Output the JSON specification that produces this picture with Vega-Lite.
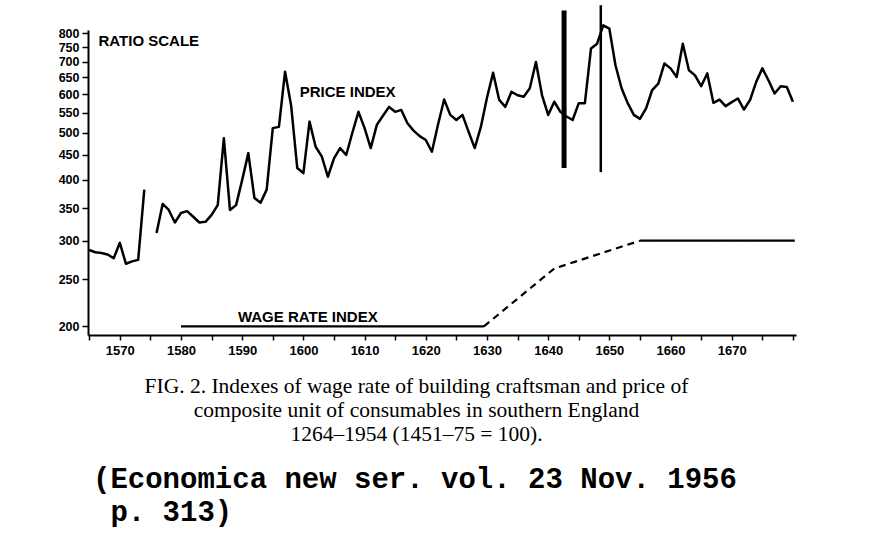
{
  "$schema": "https://vega.github.io/schema/vega-lite/v6.json",
  "width": 708,
  "height": 305,
  "autosize": {"type": "none"},
  "padding": {"left": 88, "top": 30, "right": 76, "bottom": 206},
  "background": "white",
  "config": {"view": {"stroke": null}, "font": "Liberation Sans"},
  "title": {
    "text": ["(Economica new ser. vol. 23 Nov. 1956", "\u200b\u00a0p. 313)"],
    "orient": "bottom",
    "anchor": "start",
    "frame": "group",
    "font": "Liberation Mono",
    "fontSize": 29,
    "fontWeight": "bold",
    "lineHeight": 33,
    "color": "black",
    "offset": 20,
    "dx": 5
  },
  "datasets": {
    "price": [
      {"year": 1565, "value": 287, "seg": 1},
      {"year": 1566, "value": 284, "seg": 1},
      {"year": 1567, "value": 283, "seg": 1},
      {"year": 1568, "value": 281, "seg": 1},
      {"year": 1569, "value": 276, "seg": 1},
      {"year": 1570, "value": 297, "seg": 1},
      {"year": 1571, "value": 269, "seg": 1},
      {"year": 1572, "value": 272, "seg": 1},
      {"year": 1573, "value": 274, "seg": 1},
      {"year": 1574, "value": 382, "seg": 1},
      {"year": 1576, "value": 311, "seg": 2},
      {"year": 1577, "value": 357, "seg": 2},
      {"year": 1578, "value": 347, "seg": 2},
      {"year": 1579, "value": 327, "seg": 2},
      {"year": 1580, "value": 342, "seg": 2},
      {"year": 1581, "value": 345, "seg": 2},
      {"year": 1582, "value": 336, "seg": 2},
      {"year": 1583, "value": 327, "seg": 2},
      {"year": 1584, "value": 328, "seg": 2},
      {"year": 1585, "value": 339, "seg": 2},
      {"year": 1586, "value": 355, "seg": 2},
      {"year": 1587, "value": 487, "seg": 2},
      {"year": 1588, "value": 347, "seg": 2},
      {"year": 1589, "value": 355, "seg": 2},
      {"year": 1590, "value": 400, "seg": 2},
      {"year": 1591, "value": 454, "seg": 2},
      {"year": 1592, "value": 367, "seg": 2},
      {"year": 1593, "value": 359, "seg": 2},
      {"year": 1594, "value": 382, "seg": 2},
      {"year": 1595, "value": 511, "seg": 2},
      {"year": 1596, "value": 514, "seg": 2},
      {"year": 1597, "value": 667, "seg": 2},
      {"year": 1598, "value": 568, "seg": 2},
      {"year": 1599, "value": 423, "seg": 2},
      {"year": 1600, "value": 413, "seg": 2},
      {"year": 1601, "value": 527, "seg": 2},
      {"year": 1602, "value": 468, "seg": 2},
      {"year": 1603, "value": 447, "seg": 2},
      {"year": 1604, "value": 406, "seg": 2},
      {"year": 1605, "value": 443, "seg": 2},
      {"year": 1606, "value": 465, "seg": 2},
      {"year": 1607, "value": 450, "seg": 2},
      {"year": 1608, "value": 500, "seg": 2},
      {"year": 1609, "value": 552, "seg": 2},
      {"year": 1610, "value": 511, "seg": 2},
      {"year": 1611, "value": 465, "seg": 2},
      {"year": 1612, "value": 519, "seg": 2},
      {"year": 1613, "value": 542, "seg": 2},
      {"year": 1614, "value": 565, "seg": 2},
      {"year": 1615, "value": 552, "seg": 2},
      {"year": 1616, "value": 557, "seg": 2},
      {"year": 1617, "value": 523, "seg": 2},
      {"year": 1618, "value": 505, "seg": 2},
      {"year": 1619, "value": 492, "seg": 2},
      {"year": 1620, "value": 483, "seg": 2},
      {"year": 1621, "value": 457, "seg": 2},
      {"year": 1622, "value": 520, "seg": 2},
      {"year": 1623, "value": 585, "seg": 2},
      {"year": 1624, "value": 544, "seg": 2},
      {"year": 1625, "value": 531, "seg": 2},
      {"year": 1626, "value": 544, "seg": 2},
      {"year": 1627, "value": 502, "seg": 2},
      {"year": 1628, "value": 465, "seg": 2},
      {"year": 1629, "value": 514, "seg": 2},
      {"year": 1630, "value": 590, "seg": 2},
      {"year": 1631, "value": 664, "seg": 2},
      {"year": 1632, "value": 584, "seg": 2},
      {"year": 1633, "value": 565, "seg": 2},
      {"year": 1634, "value": 607, "seg": 2},
      {"year": 1635, "value": 597, "seg": 2},
      {"year": 1636, "value": 593, "seg": 2},
      {"year": 1637, "value": 617, "seg": 2},
      {"year": 1638, "value": 699, "seg": 2},
      {"year": 1639, "value": 597, "seg": 2},
      {"year": 1640, "value": 544, "seg": 2},
      {"year": 1641, "value": 579, "seg": 2},
      {"year": 1642, "value": 552, "seg": 2},
      {"year": 1643, "value": 540, "seg": 2},
      {"year": 1644, "value": 531, "seg": 2},
      {"year": 1645, "value": 575, "seg": 2},
      {"year": 1646, "value": 575, "seg": 2},
      {"year": 1647, "value": 745, "seg": 2},
      {"year": 1648, "value": 762, "seg": 2},
      {"year": 1649, "value": 831, "seg": 2},
      {"year": 1650, "value": 818, "seg": 2},
      {"year": 1651, "value": 688, "seg": 2},
      {"year": 1652, "value": 617, "seg": 2},
      {"year": 1653, "value": 575, "seg": 2},
      {"year": 1654, "value": 544, "seg": 2},
      {"year": 1655, "value": 534, "seg": 2},
      {"year": 1656, "value": 561, "seg": 2},
      {"year": 1657, "value": 612, "seg": 2},
      {"year": 1658, "value": 631, "seg": 2},
      {"year": 1659, "value": 694, "seg": 2},
      {"year": 1660, "value": 678, "seg": 2},
      {"year": 1661, "value": 651, "seg": 2},
      {"year": 1662, "value": 762, "seg": 2},
      {"year": 1663, "value": 672, "seg": 2},
      {"year": 1664, "value": 656, "seg": 2},
      {"year": 1665, "value": 623, "seg": 2},
      {"year": 1666, "value": 662, "seg": 2},
      {"year": 1667, "value": 576, "seg": 2},
      {"year": 1668, "value": 585, "seg": 2},
      {"year": 1669, "value": 567, "seg": 2},
      {"year": 1670, "value": 578, "seg": 2},
      {"year": 1671, "value": 588, "seg": 2},
      {"year": 1672, "value": 558, "seg": 2},
      {"year": 1673, "value": 584, "seg": 2},
      {"year": 1674, "value": 636, "seg": 2},
      {"year": 1675, "value": 678, "seg": 2},
      {"year": 1676, "value": 641, "seg": 2},
      {"year": 1677, "value": 602, "seg": 2},
      {"year": 1678, "value": 623, "seg": 2},
      {"year": 1679, "value": 621, "seg": 2},
      {"year": 1680, "value": 579, "seg": 2}
    ],
    "wage": [
      {"year": 1580, "value": 200, "seg": "a", "style": "solid"},
      {"year": 1629.5, "value": 200, "seg": "a", "style": "solid"},
      {"year": 1629.5, "value": 200, "seg": "b", "style": "dashed"},
      {"year": 1641, "value": 263, "seg": "b", "style": "dashed"},
      {"year": 1655, "value": 300, "seg": "b", "style": "dashed"},
      {"year": 1655, "value": 300, "seg": "c", "style": "solid"},
      {"year": 1680.3, "value": 300, "seg": "c", "style": "solid"}
    ],
    "bars": [
      {"year": 1642.6, "value": 423, "top": 892, "id": "a"},
      {"year": 1648.6, "value": 415, "top": 914, "id": "b"}
    ],
    "labels": [
      {"year": 1599.4, "value": 605, "label": "PRICE INDEX"},
      {"year": 1589.3, "value": 209, "label": "WAGE RATE INDEX"}
    ]
  },
  "encoding": {
    "x": {
      "field": "year",
      "type": "quantitative",
      "scale": {"domain": [1564.8, 1680.5], "nice": false, "zero": false},
      "axis": {
        "values": [1565, 1570, 1575, 1580, 1585, 1590, 1595, 1600, 1605, 1610, 1615, 1620, 1625, 1630, 1635, 1640, 1645, 1650, 1655, 1660, 1665, 1670, 1675, 1680],
        "labelExpr": "datum.value % 10 === 0 && datum.value < 1680 ? datum.value : ''",
        "format": "d",
        "grid": false,
        "domainColor": "black",
        "domainWidth": 2,
        "tickColor": "black",
        "tickWidth": 1.5,
        "tickSize": 5,
        "labelFont": "Liberation Sans",
        "labelFontWeight": "bold",
        "labelFontSize": 13,
        "labelColor": "black",
        "labelPadding": 4,
        "labelFlush": false,
        "labelOverlap": false,
        "title": ["FIG. 2. Indexes of wage rate of building craftsman and price of", "composite unit of consumables in southern England", "1264–1954 (1451–75 = 100)."],
        "titleFont": "Liberation Serif",
        "titleFontSize": 21.5,
        "titleFontWeight": "normal",
        "titleColor": "black",
        "titleLineHeight": 24,
        "titleX": 328,
        "titleY": 40,
        "titleAlign": "center",
        "titleBaseline": "top"
      }
    },
    "y": {
      "field": "value",
      "type": "quantitative",
      "scale": {"type": "log", "domain": [192, 813], "nice": false},
      "axis": {
        "values": [200, 250, 300, 350, 400, 450, 500, 550, 600, 650, 700, 750, 800],
        "format": "d",
        "grid": false,
        "domainColor": "black",
        "domainWidth": 2,
        "tickColor": "black",
        "tickWidth": 1.5,
        "tickSize": 6,
        "labelFont": "Liberation Sans",
        "labelFontWeight": "bold",
        "labelFontSize": 12.5,
        "labelColor": "black",
        "labelPadding": 3,
        "labelOverlap": false,
        "labelFlush": false,
        "title": "RATIO SCALE",
        "titleFont": "Liberation Sans",
        "titleFontSize": 15,
        "titleFontWeight": "bold",
        "titleColor": "black",
        "titleAngle": 0,
        "titleX": 10,
        "titleY": 10,
        "titleAlign": "left",
        "titleBaseline": "middle"
      }
    }
  },
  "layer": [
    {
      "data": {"name": "price"},
      "mark": {"type": "line", "color": "black", "strokeWidth": 2.5, "strokeJoin": "round"},
      "encoding": {"detail": {"field": "seg", "type": "nominal"}}
    },
    {
      "data": {"name": "wage"},
      "mark": {"type": "line", "color": "black", "strokeWidth": 2.2},
      "encoding": {
        "detail": {"field": "seg", "type": "nominal"},
        "strokeDash": {"field": "style", "type": "nominal", "scale": {"domain": ["solid", "dashed"], "range": [[1, 0], [7, 5]]}, "legend": null}
      }
    },
    {
      "data": {"name": "bars"},
      "mark": {"type": "rule", "color": "black"},
      "encoding": {
        "y2": {"field": "top"},
        "strokeWidth": {"field": "id", "type": "nominal", "scale": {"domain": ["a", "b"], "range": [5, 2.5]}, "legend": null}
      }
    },
    {
      "data": {"name": "labels"},
      "mark": {"type": "text", "align": "left", "baseline": "middle", "font": "Liberation Sans", "fontWeight": "bold", "fontSize": 15, "color": "black"},
      "encoding": {"text": {"field": "label", "type": "nominal"}}
    }
  ]
}
